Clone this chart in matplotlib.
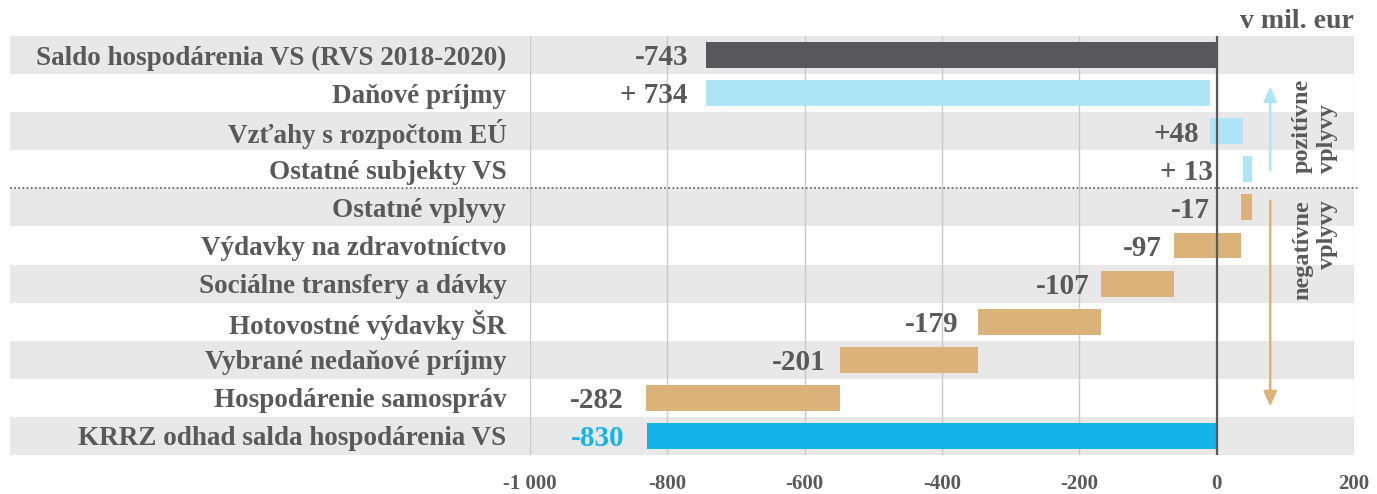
import matplotlib
matplotlib.use("Agg")
import matplotlib.pyplot as plt
from matplotlib.patches import Rectangle
import matplotlib.transforms as mtransforms

categories = ["Saldo hospodárenia VS (RVS 2018-2020)", "Daňové príjmy", "Vzťahy s rozpočtom EÚ",
              "Ostatné subjekty VS", "Ostatné vplyvy", "Výdavky na zdravotníctvo",
              "Sociálne transfery a dávky", "Hotovostné výdavky ŠR", "Vybrané nedaňové príjmy",
              "Hospodárenie samospráv", "KRRZ odhad salda hospodárenia VS"]
values = [-743, 734, 48, 13, -17, -97, -107, -179, -201, -282, -830]
value_labels = ["-743", "+ 734", "+48", "+ 13", "-17", "-97", "-107", "-179", "-201", "-282", "-830"]
kinds = ["total", "pos", "pos", "pos", "neg", "neg", "neg", "neg", "neg", "neg", "total2"]
xticks = [-1000, -800, -600, -400, -200, 0, 200]
xtick_labels = ["-1 000", "-800", "-600", "-400", "-200", "0", "200"]
label_gaps = [13, 14, 8, 22, 22, 9, 8, 14, 10, 16, 16]

colors = {"total": "#58585A", "pos": "#AEE6F8", "neg": "#DBB27A", "total2": "#14B4E9"}
TXT = "#595959"
FONT = "Liberation Serif"

fig = plt.figure(figsize=(13.77, 4.94), dpi=100)
W, H = 1377, 494
ax = fig.add_axes([530 / W, 39 / H, 824 / W, 419 / H])

n = len(categories)
ax.set_xlim(-1000, 200)
ax.set_ylim(n - 0.5, -0.5)

# background bands spanning label area
trans = mtransforms.blended_transform_factory(ax.transAxes, ax.transData)
x0 = (10 - 530) / 824
for i in range(n):
    if i % 2 == 0:
        ax.add_patch(Rectangle((x0, i - 0.5), 1 - x0, 1.0, transform=trans,
                               facecolor="#E8E8E8", edgecolor="none", zorder=0, clip_on=False))

# grid
for t in xticks:
    ax.axvline(t, color="#C8C8C8", lw=1.0, zorder=1)

# waterfall
cum = 0.0
for i, (v, k) in enumerate(zip(values, kinds)):
    if k in ("total", "total2"):
        left, width = 0, v
        cum = v
    else:
        left, width = cum, v
        cum = cum + v
    ax.barh(i, width, left=left, height=0.68, color=colors[k], zorder=3)
    lx = min(left, left + width)
    ax.annotate(value_labels[i], xy=(lx, i), xytext=(-label_gaps[i], -2), textcoords="offset points",
                ha="right", va="center", fontsize=21, fontweight="bold", family=FONT,
                color=("#14B4E9" if k == "total2" else TXT), zorder=4)

ax.axvline(0, color="#595959", lw=1.6, zorder=4)

# dotted separator
ax.plot([x0, 1.005], [3.5, 3.5], transform=trans, color="#595959", lw=1.2,
        linestyle=(0, (1, 1.5)), clip_on=False, zorder=5)

# arrows
ax.annotate("", xy=(78, 0.75), xytext=(78, 3.1),
            arrowprops=dict(arrowstyle="-|>,head_length=0.9,head_width=0.4", color="#AEE6F8", lw=1.8))
ax.annotate("", xy=(78, 9.3), xytext=(78, 3.75),
            arrowprops=dict(arrowstyle="-|>,head_length=0.9,head_width=0.4", color="#DBB27A", lw=1.8))

ax.text(143, 3.1, "pozitívne\nvplyvy", rotation=90, ha="center", va="bottom", multialignment="left",
        fontsize=17.5, fontweight="bold", family=FONT, color=TXT, linespacing=1.25)
ax.text(143, 3.8, "negatívne\nvplyvy", rotation=90, ha="center", va="top", multialignment="right",
        fontsize=17.5, fontweight="bold", family=FONT, color=TXT, linespacing=1.25)

ax.set_yticks(range(n))
ax.set_yticklabels(categories, fontsize=19.5, fontweight="bold", family=FONT, color=TXT)
ax.set_xticks(xticks)
ax.set_xticklabels(xtick_labels, fontsize=15, fontweight="bold", family=FONT, color=TXT)
ax.tick_params(axis="y", length=0, pad=17)
ax.tick_params(axis="x", length=0, pad=14)
for s in ax.spines.values():
    s.set_visible(False)
ax.set_facecolor("none")

fig.text(1354 / W, 1 - 22 / H, "v mil. eur", ha="right", va="center", fontsize=20,
         fontweight="bold", family=FONT, color=TXT)

fig.savefig("out.png", dpi=100)
